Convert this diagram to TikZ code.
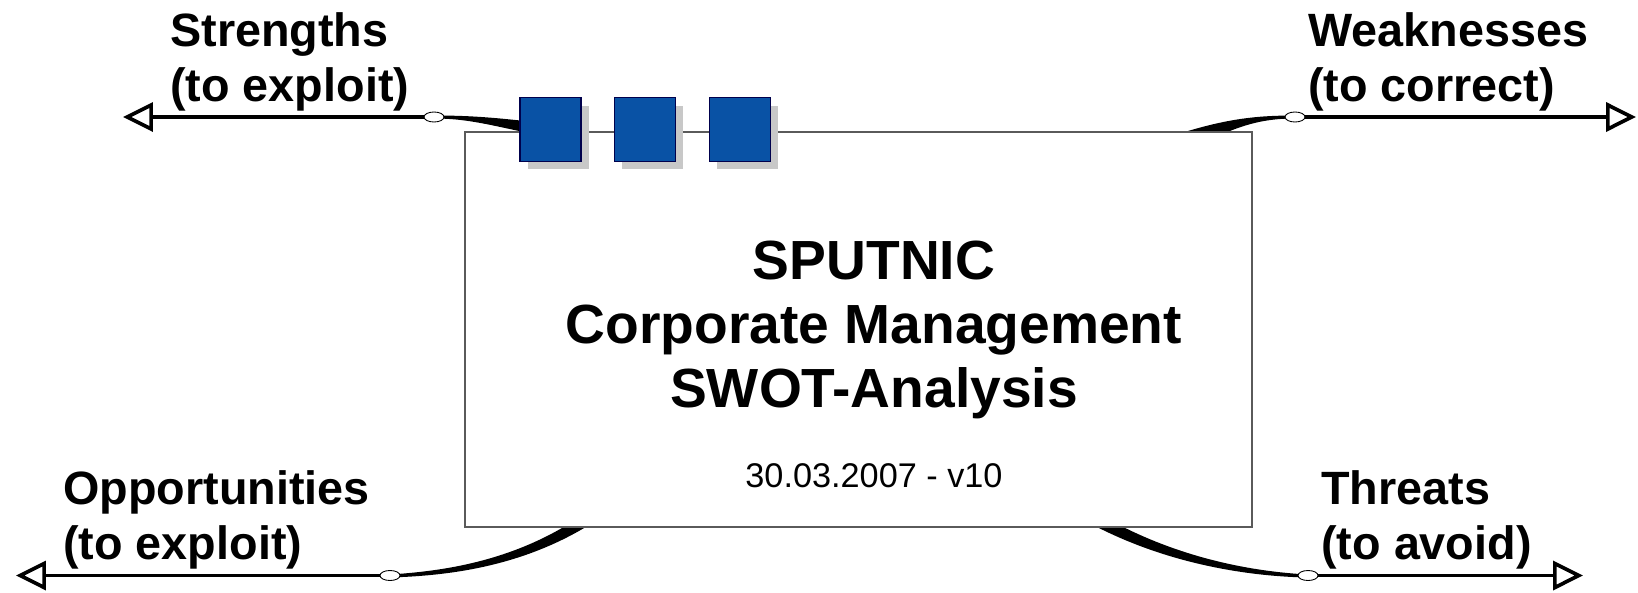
\documentclass[tikz,border=0pt]{standalone}
\usepackage{fontspec}
\setmainfont{Liberation Sans}
\usetikzlibrary{positioning,arrows.meta,shapes.geometric,shadows}
\definecolor{sqblue}{RGB}{9,82,165}
\definecolor{shadowgray}{RGB}{200,200,200}
\definecolor{framegray}{RGB}{90,90,90}

\begin{document}
\begin{tikzpicture}
	[x=0.02cm,y=-0.02cm,
	core/.style={rectangle,draw=framegray,fill=white,line width=0.7pt,minimum width=15.74cm,minimum height=7.9cm,inner sep=0pt},
	sq/.style={rectangle,draw=black!70!blue,fill=sqblue,line width=0.6pt,minimum width=1.22cm,minimum height=1.28cm,inner sep=0pt,
		drop shadow={shadow xshift=0.16cm,shadow yshift=-0.16cm,fill=shadowgray,opacity=1}},
	knob/.style={ellipse,draw,fill=white,line width=0.5pt,inner sep=0pt,minimum width=0.4cm,minimum height=0.2cm},
	arm/.style={line width=2.1pt,-{Triangle[open,length=0.6cm,width=0.58cm]}},
	topic/.style={anchor=north west,inner sep=0pt,align=left,font=\fontsize{26.6}{31.5}\selectfont\bfseries}]
	\useasboundingbox (0,0) rectangle (1638,592);

	% branches, behind the frame
	\fill (434,115.5) .. controls (475,115.5) and (500,118) .. (560,125) -- (560,139) .. controls (500,128.5) and (475,118.5) .. (434,118.5) -- cycle;
	\fill (1295,115.5) .. controls (1255,115.5) and (1225,119) .. (1175,135) -- (1190,150) .. controls (1235,126) and (1260,118.5) .. (1295,118.5) -- cycle;
	\fill (390,574.5) .. controls (452,570.5) and (542,558) .. (620,485) -- (630,495) .. controls (548,566) and (452,575.5) .. (390,577.5) -- cycle;
	\fill (1308,574.5) .. controls (1250,571.5) and (1153,556) .. (1064,491) -- (1056,503) .. controls (1147,564) and (1250,576.5) .. (1308,577.5) -- cycle;

	\node [core] (frame) at (858.5,329.5) {};

	\node [sq] (sq1) at (550.5,129.5) {};
	\node [sq] (sq2) [right=0.64cm of sq1] {};
	\node [sq] (sq3) [right=0.66cm of sq2] {};

	\node [knob] (sknob) at (434,117) {};
	\node [knob] (wknob) at (1295,117) {};
	\node [knob] (oknob) at (390,575.5) {};
	\node [knob] (tknob) at (1308,575.5) {};
	\coordinate (stip) at (123,117);
	\coordinate (wtip) at (1636,117);
	\coordinate (otip) at (16,575.5);
	\coordinate (ttip) at (1583,575.5);

	\draw [arm] (sknob) -- (stip);
	\draw [arm] (wknob) -- (wtip);
	\draw [arm] (oknob) -- (otip);
	\draw [arm] (tknob) -- (ttip);

	\node [topic] (s) at (170,12) {Strengths\\(to exploit)};
	\node [topic] (w) at (1308,12) {Weaknesses\\(to correct)};
	\node [topic] (o) at (63,470) {Opportunities\\(to exploit)};
	\node [topic] (t) at (1321,470) {Threats\\(to avoid)};

	\node [font=\fontsize{31.4}{36.3}\selectfont\bfseries,align=center,anchor=north,inner sep=0pt] (title) at (874,241) {SPUTNIC\\Corporate Management\\SWOT-Analysis};
	\node [font=\fontsize{19.5}{23}\selectfont,anchor=base,inner sep=0pt] (date) at (874,487) {30.03.2007 - v10};
\end{tikzpicture}
\end{document}
